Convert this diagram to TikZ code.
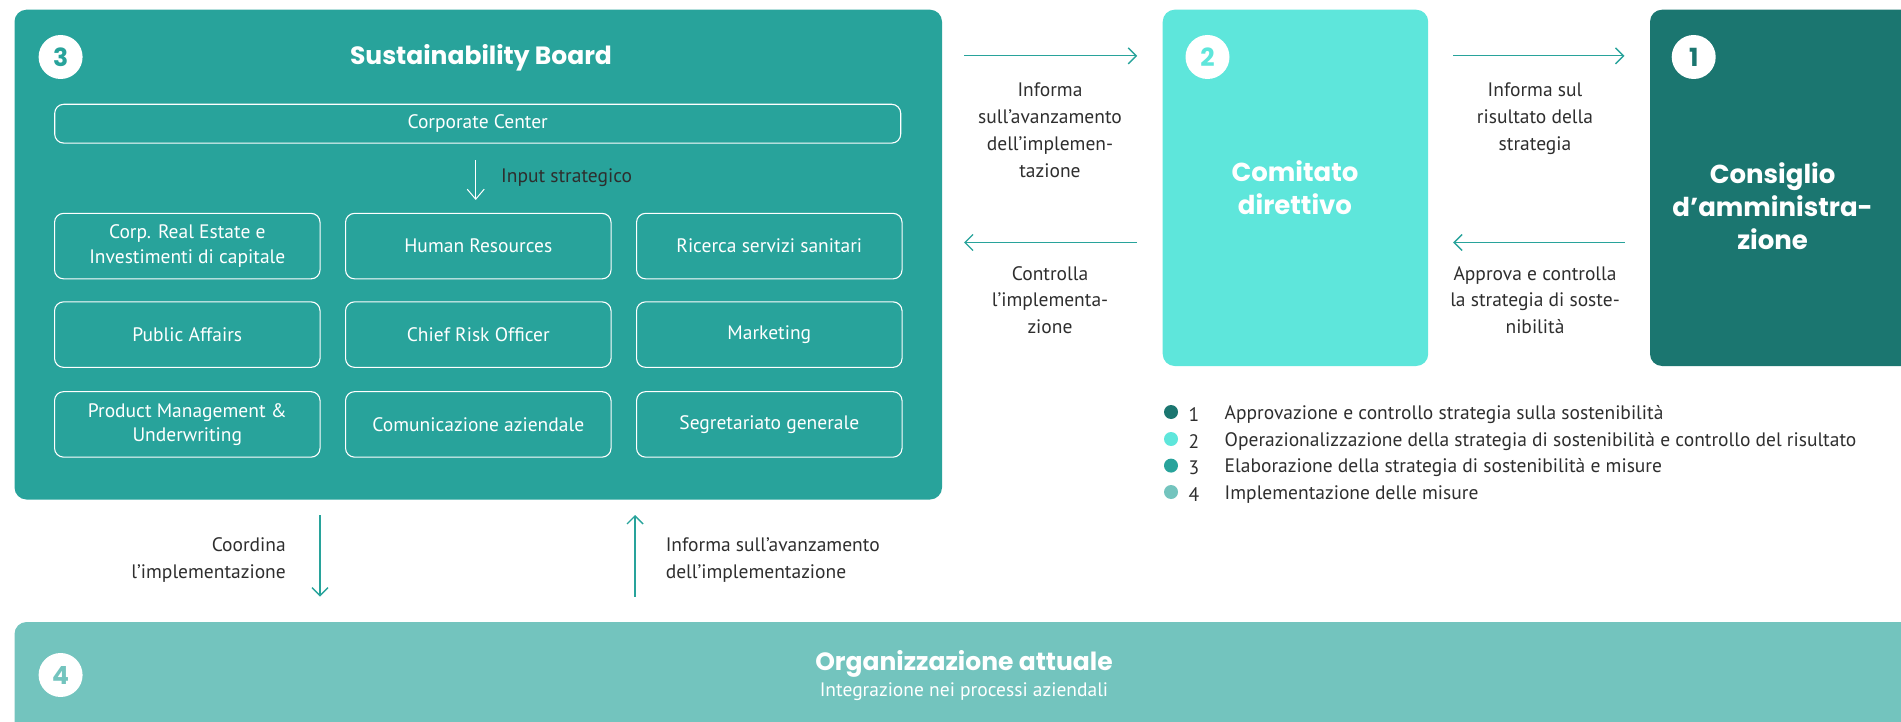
\documentclass[tikz,border=0pt]{standalone}
\usepackage{fontspec}
\setmainfont{PT Sans}
\newfontfamily\titlefont{Poppins}
\usetikzlibrary{arrows.meta}
\definecolor{tealA}{HTML}{28A39B}
\definecolor{cyanB}{HTML}{5EE6DB}
\definecolor{darkC}{HTML}{1B7670}
\definecolor{lightD}{HTML}{73C4BE}
\definecolor{txt}{HTML}{2E2E2E}
\tikzset{
  bigbox/.style={rounded corners=12pt, inner sep=0pt, outer sep=0pt, draw=none},
  unitbox/.style={draw=white, line width=1.1pt, rounded corners=9pt, text=white, minimum width=265.5pt, minimum height=65.5pt, inner sep=0pt, outer sep=0pt, align=center, font=\fontsize{19.5}{24.5}\selectfont},
  numcirc/.style={circle, fill=white, minimum size=44pt, inner sep=0pt, font=\titlefont\bfseries\fontsize{25}{25}\selectfont},
  arr/.style={draw=tealA, line width=1.4pt, -{Straight Barb[length=8pt,width=16pt,line width=1.4pt]}},
  warr/.style={draw=white, line width=1pt, -{Straight Barb[length=10pt,width=17pt,line width=1pt]}},
  lbl/.style={text=txt, align=center, font=\fontsize{19.5}{26.7}\selectfont, inner sep=0pt},
  ttl/.style={text=white, font=\titlefont\bfseries\fontsize{25}{32.7}\selectfont, align=center, inner sep=0pt},
  dot/.style={circle, minimum size=14pt, inner sep=0pt},
}
\begin{document}
\begin{tikzpicture}[x=1pt,y=-1pt]
\useasboundingbox (0,0) rectangle (1901,722);
\begin{scope}
\clip (0,0) rectangle (1901,722);
\node[bigbox, fill=tealA, minimum width=927.5pt, minimum height=489.8pt] (b3) at (478.25,254.6) {};
\node[bigbox, fill=cyanB, minimum width=265.5pt, minimum height=356.3pt] (b2) at (1295.45,187.85) {};
\node[bigbox, fill=darkC, minimum width=290pt, minimum height=356.3pt] (b1) at (1795,187.85) {};
\node[bigbox, fill=lightD, minimum width=1925pt, minimum height=130pt] (b4) at (977,687) {};
\end{scope}

% number circles
\node[numcirc, text=tealA] (n3) at (60.6,57) {3};
\node[numcirc, text=cyanB] (n2) at (1207.5,57) {2};
\node[numcirc, text=darkC] (n1) at (1693.7,57) {1};
\node[numcirc, text=lightD] (n4) at (60.6,675) {4};

% titles
\node[ttl] (t3) at (481,58) {Sustainability Board};
\node[ttl, font=\titlefont\bfseries\fontsize{26}{32.7}\selectfont] (t2) at (1295,188) {Comitato\\direttivo};
\node[ttl, font=\titlefont\bfseries\fontsize{26}{32.7}\selectfont] (t1) at (1772.6,206) {Consiglio\\d’amministra-\\zione};
\node[ttl] (t4) at (964,664) {Organizzazione attuale};
\node[text=white, font=\fontsize{19.5}{22}\selectfont, inner sep=0pt] (s4) at (964,692) {Integrazione nei processi aziendali};

% Corporate center
\node[unitbox, minimum width=846pt, minimum height=38.8pt] (cc) at (477.7,123.7) {Corporate Center};

% grid
\node[unitbox] (g11) at (187.3,246.1) {Corp. Real Estate e\\Investimenti di capitale};
\node[unitbox] (g12) at (478.3,246.1) {Human Resources};
\node[unitbox] (g13) at (769.3,246.1) {Ricerca servizi sanitari};
\node[unitbox] (g21) at (187.3,334.6) {Public Affairs};
\node[unitbox] (g22) at (478.3,334.6) {Chief Risk Officer};
\node[unitbox] (g23) at (769.3,334.6) {Marketing};
\node[unitbox] (g31) at (187.3,424.4) {Product Management \&\\Underwriting};
\node[unitbox] (g32) at (478.3,424.4) {Comunicazione aziendale};
\node[unitbox] (g33) at (769.3,424.4) {Segretariato generale};

% input strategico
\coordinate (xin) at (475.7,0);
\draw[warr, shorten <=17pt, shorten >=13.4pt] (cc.south -| xin) -- (g12.north -| xin);
\node[lbl, anchor=west] (lin) at (501,178) {Input strategico};

% horizontal arrows
\coordinate (ytop) at (0,55.8);
\coordinate (ybot) at (0,242.5);
\draw[arr, shorten <=22pt, shorten >=25.5pt] (b3.east |- ytop) -- (b2.west |- ytop);
\draw[arr, shorten <=25.5pt, shorten >=22pt] (b2.west |- ybot) -- (b3.east |- ybot);
\draw[arr, shorten <=25pt, shorten >=25.5pt] (b2.east |- ytop) -- (b1.west |- ytop);
\draw[arr, shorten <=25.5pt, shorten >=25pt] (b1.west |- ybot) -- (b2.east |- ybot);

\node[lbl, anchor=north] (l1) at (1050,83) {Informa\\sull’avanzamento\\dell’implemen-\\tazione};
\node[lbl, anchor=north] (l2) at (1050,266) {Controlla\\l’implementa-\\zione};
\node[lbl, anchor=north] (l3) at (1535,83) {Informa sul\\risultato della\\strategia};
\node[lbl, anchor=north] (l4) at (1535,266) {Approva e controlla\\la strategia di soste-\\nibilità};

% vertical arrows
\coordinate (xd) at (320,0);
\coordinate (xu) at (635,0);
\draw[arr, shorten <=15.5pt, shorten >=25.5pt] (b3.south -| xd) -- (b4.north -| xd);
\draw[arr, shorten <=25.5pt, shorten >=15.5pt] (b4.north -| xu) -- (b3.south -| xu);
\node[lbl, anchor=east, align=right] (lcd) at (286,560) {Coordina\\l’implementazione};
\node[lbl, anchor=west, align=left] (lia) at (665.6,560) {Informa sull’avanzamento\\dell’implementazione};

% legend
\node[dot, fill=darkC] (d1) at (1171,412) {};
\node[dot, fill=cyanB] (d2) at (1171,439) {};
\node[dot, fill=tealA] (d3) at (1171,465.6) {};
\node[dot, fill=lightD] (d4) at (1171,492) {};
\node[lbl] (k1) at (1194,414.5) {1};
\node[lbl] (k2) at (1194,441.5) {2};
\node[lbl] (k3) at (1194,468) {3};
\node[lbl] (k4) at (1194,494.5) {4};
\node[lbl, anchor=west] (e1) at (1224.5,414.5) {Approvazione e controllo strategia sulla sostenibilità};
\node[lbl, anchor=west] (e2) at (1224.5,441.5) {Operazionalizzazione della strategia di sostenibilità e controllo del risultato};
\node[lbl, anchor=west] (e3) at (1224.5,468) {Elaborazione della strategia di sostenibilità e misure};
\node[lbl, anchor=west] (e4) at (1224.5,494.5) {Implementazione delle misure};
\end{tikzpicture}
\end{document}
